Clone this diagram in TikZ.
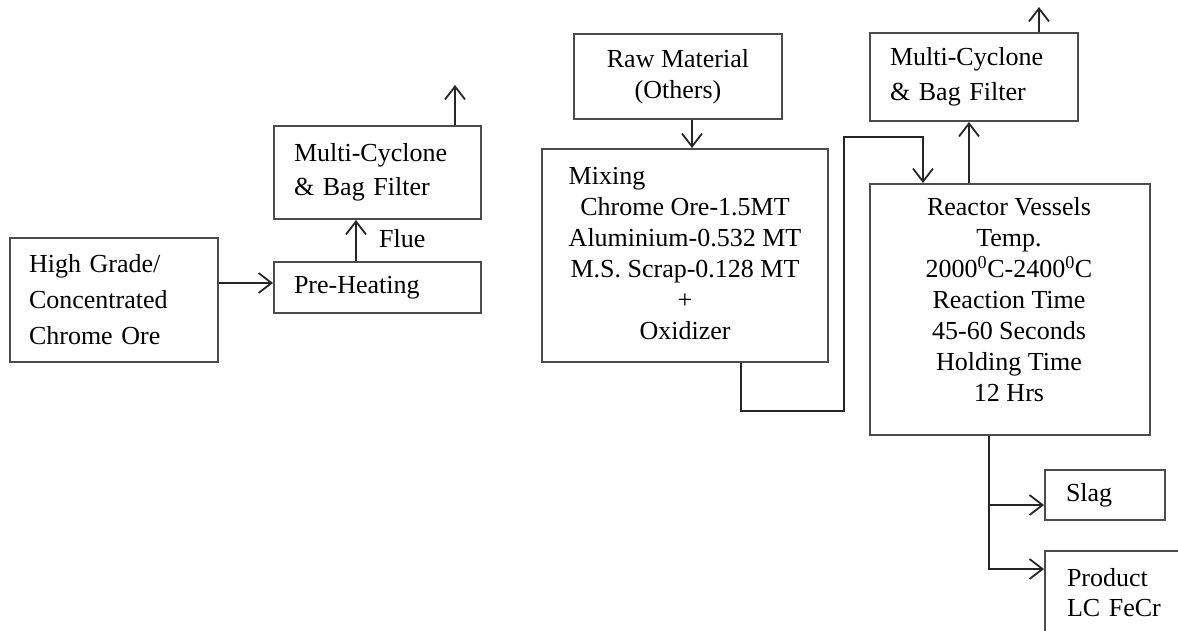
\documentclass[tikz,border=0pt]{standalone}
\usepackage{fontspec}
\setmainfont{Liberation Serif}
\usetikzlibrary{arrows.meta}
\begin{document}
\begin{tikzpicture}[x=1pt,y=-1pt,
  box/.style={draw=black!70, line width=2pt, rectangle, anchor=north west, inner ysep=0pt, font=\fontsize{26}{31}\selectfont},
  lbox/.style={box, align=left},
  cbox/.style={box, align=center},
  txt/.style={font=\fontsize{26}{31}\selectfont, inner sep=0pt},
  conn/.style={draw=black!85, line width=1.8pt},
  arr/.style={conn, -{Straight Barb[length=13pt,width=20pt]}},
]
\useasboundingbox (0,0) rectangle (1178,630);
\clip (0,0) rectangle (1178,630);

% boxes
\node[lbox, minimum width=208pt, minimum height=124pt, text width=170pt, inner xsep=19pt,
      font=\fontsize{26}{36}\selectfont] (hg) at (9,237) {High Grade/\\Concentrated\\Chrome Ore};
\node[lbox, minimum width=207pt, minimum height=51pt, text width=167pt, inner xsep=20pt] (pre) at (273,261) {Pre-Heating};
\node[lbox, minimum width=207pt, minimum height=93pt, text width=167pt, inner xsep=20pt,
      font=\fontsize{26}{34}\selectfont] (cyc1) at (273,125) {Multi-Cyclone\\\& Bag Filter};
\node[cbox, minimum width=208pt, minimum height=85pt] (raw) at (573,33) {Raw Material\\(Others)};
\node[cbox, minimum width=286pt, minimum height=213pt] (mix) at (541,148)
  {\begin{tabular}{@{}c@{}}\multicolumn{1}{@{}l@{}}{Mixing}\\
   Chrome Ore-1.5MT\\Aluminium-0.532 MT\\M.S. Scrap-0.128 MT\\+\\Oxidizer\end{tabular}};
\node[lbox, minimum width=208pt, minimum height=88pt, text width=168pt, inner xsep=20pt,
      font=\fontsize{26}{35}\selectfont] (cyc2) at (869,32) {Multi-Cyclone\\\& Bag Filter};
\node[box, minimum width=280pt, minimum height=251pt] (reactor) at (869,183) {};
\node[txt, align=center] (reactortext) at (1009,300)
  {Reactor Vessels\\Temp.\\2000\textsuperscript{0}C-2400\textsuperscript{0}C\\Reaction Time\\45-60 Seconds\\Holding Time\\12 Hrs};
\node[lbox, minimum width=120pt, minimum height=50pt, text width=78pt, inner xsep=21pt] (slag) at (1044,469) {Slag};
\node[lbox, minimum width=160pt, minimum height=84pt, text width=116pt, inner xsep=22pt,
      font=\fontsize{26}{30}\selectfont] (product) at (1044,550) {Product\\LC FeCr};

\node[txt, anchor=base west] (flue) at (379,247) {Flue};

\coordinate (out1) at (455,85);
\coordinate (out2) at (1039,7);

% connectors
\draw[arr] (hg.east |- 0,283) -- (pre.west |- 0,283);
\draw[arr] (pre.north -| 356,0) -- (cyc1.south -| 356,0);
\draw[arr] (cyc1.north -| out1) -- (out1);
\draw[arr] (raw.south -| 692,0) -- (mix.north -| 692,0);
\draw[arr] (mix.south -| 741,0) |- (844,411) |- (923,137) -- (reactor.north -| 923,0);
\draw[arr] (reactor.north -| 969,0) -- (cyc2.south -| 969,0);
\draw[arr] (cyc2.north -| out2) -- (out2);
\draw[arr] (reactor.south -| 989,0) |- (product.west |- 0,569);
\draw[arr] (989,505) -- (slag.west |- 0,505);
\end{tikzpicture}
\end{document}
